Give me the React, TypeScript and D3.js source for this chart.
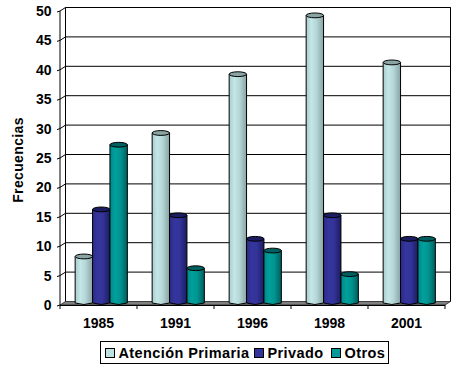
import React from "react";
import * as d3 from "d3";

const years = ["1985", "1991", "1996", "1998", "2001"];
const seriesNames = ["Atención Primaria", "Privado", "Otros"];
const atencionPrimaria = [8, 29, 39, 49, 41];
const privado = [16, 15, 11, 15, 11];
const otros = [27, 6, 9, 5, 11];
const yTicks = [0, 5, 10, 15, 20, 25, 30, 35, 40, 45, 50];

const seriesValues = [atencionPrimaria, privado, otros];
const gradients = [
  ["#a9cccc", "#c4e6e6", "#b4d6d6", "#8aa3a3"],
  ["#2c2c88", "#35359e", "#333399", "#1c1c60"],
  ["#008888", "#00a09c", "#009490", "#005f5f"],
];
const swatch = ["#bde0e0", "#333399", "#009999"];

const dx = 5.5;
const dy = 3.5;

export default function App() {
  const x = d3.scaleBand<string>().domain(years).range([60, 445]);
  const y = d3.scaleLinear().domain([0, 50]).range([305, 11]);
  const barW = 17.4;
  const font = "'Liberation Sans', Arial, sans-serif";

  return (
    <svg width={464} height={377} style={{ position: "absolute", left: 0, top: 0 }}>
      <defs>
        {gradients.map((g, i) => (
          <linearGradient key={i} id={`g${i}`} x1="0" x2="1" y1="0" y2="0">
            <stop offset="0" stopColor={g[0]} />
            <stop offset="0.3" stopColor={g[1]} />
            <stop offset="0.6" stopColor={g[2]} />
            <stop offset="1" stopColor={g[3]} />
          </linearGradient>
        ))}
      </defs>
      <rect width={464} height={377} fill="#fff" />

      {/* walls */}
      <path
        d={`M${x.range()[0]},${y(0)}L${x.range()[0] + dx},${y(0) - dy}H${x.range()[1] + dx}L${x.range()[1]},${y(0)}Z`}
        fill="#808080"
        stroke="#222"
        strokeWidth={0.8}
      />
      <path
        d={`M${60 + dx},${y(0) - dy}V${y(50) - dy}H${445 + dx}V${y(0) - dy}`}
        fill="none"
        stroke="#000"
        strokeWidth={1}
      />
      <line x1={60} x2={60} y1={y(0)} y2={y(50)} stroke="#000" />
      <line x1={60} x2={445} y1={y(0) + 0.5} y2={y(0) + 0.5} stroke="#000" />
      {yTicks.filter((t) => t > 0).map((t) => (
        <path
          key={t}
          d={`M57,${y(t) + 1}L60,${y(t)}L${60 + dx},${y(t) - dy}H${445 + dx}`}
          fill="none"
          stroke="#000"
          strokeWidth={1}
        />
      ))}
      <line x1={57} x2={60} y1={y(0) + 1} y2={y(0)} stroke="#000" />
      {[...years.map((c) => x(c)!), 445].map((p, i) => (
        <line key={i} x1={p} x2={p} y1={y(0)} y2={y(0) + 4} stroke="#000" />
      ))}

      {/* bars */}
      {years.map((yr, gi) =>
        seriesValues.map((vals, si) => {
          const left = x(yr)! + x.bandwidth() / 2 + dx / 2 - (barW * 3) / 2 + si * barW;
          const right = left + barW;
          const cx = left + barW / 2;
          const top = y(vals[gi]) - 1.5;
          const bot = 304;
          return (
            <g key={`${gi}-${si}`} stroke="#000" strokeWidth={1}>
              <path
                d={`M${left},${top}V${bot - 1}Q${cx},${bot + 2} ${right},${bot - 1}V${top}Z`}
                fill={`url(#g${si})`}
              />
              <ellipse cx={cx} cy={top} rx={barW / 2} ry={2.4} fill={gradients[si][3]} />
            </g>
          );
        })
      )}

      {/* axis text */}
      {yTicks.map((t) => (
        <text
          key={t}
          x={51.5}
          y={y(t) + 5}
          textAnchor="end"
          fontFamily={font}
          fontWeight="bold"
          fontSize={14}
          fill="#000"
        >
          {t}
        </text>
      ))}
      {years.map((c) => (
        <text
          key={c}
          x={x(c)! + x.bandwidth() / 2}
          y={328}
          textAnchor="middle"
          fontFamily={font}
          fontWeight="bold"
          fontSize={14}
          fill="#000"
        >
          {c}
        </text>
      ))}
      <text
        transform="translate(23,160) rotate(-90)"
        textAnchor="middle"
        fontFamily={font}
        fontWeight="bold"
        fontSize={14}
        letterSpacing={0.35}
        fill="#000"
      >
        Frecuencias
      </text>

      {/* legend */}
      <rect x={100.5} y={341.5} width={288} height={22} fill="#fff" stroke="#000" />
      {seriesNames.map((n, i) => {
        const sx = [105.5, 254.5, 331.5][i];
        return (
          <g key={n}>
            <rect x={sx} y={348.5} width={9} height={9} fill={swatch[i]} stroke="#000" />
            <text
              x={sx + 13}
              y={358}
              fontFamily={font}
              fontWeight="bold"
              fontSize={14.5}
              letterSpacing={0.4}
              fill="#000"
            >
              {n}
            </text>
          </g>
        );
      })}
    </svg>
  );
}
